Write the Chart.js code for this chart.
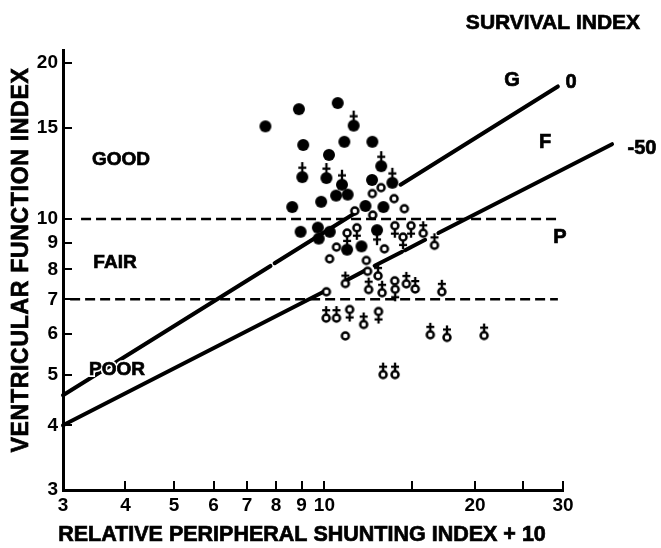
<!DOCTYPE html>
<html>
<head>
<meta charset="utf-8">
<script src="https://cdn.jsdelivr.net/npm/chart.js@4.4.1/dist/chart.umd.min.js"></script>
<style>
  html, body { margin: 0; padding: 0; background: #fff; }
</style>
</head>
<body>
<canvas id="chart" width="661" height="548"></canvas>
<script>
// axis ticks
const xTicks = [3, 4, 5, 6, 7, 8, 9, 10, 15, 20, 25, 30];
const xLabels = ["3", "4", "5", "6", "7", "8", "9", "10", "", "20", "", "30"];
const yTicks = [3, 4, 5, 6, 7, 8, 9, 10, 15, 20];

// survival index lines (gaps marked with null)
const line0 = [[3, 4.57], [7.8, 8.12], [7.87, null], [7.95, 8.22], [11.5, 10.26], [12.8, null], [14.2, 11.65], [29.3, 18.03]];
const line50 = [[3, 4.0], [10.1, 7.29], [10.6, null], [11.1, 7.63], [12.1, 7.97], [12.3, null], [12.6, 8.13], [14.3, 8.65], [14.4, null], [14.5, 8.71], [15.9, 9.12], [16.4, null], [16.9, 9.4], [37.6, 13.95]];

// good / fair / poor cut-offs
const cutGood = [[3.26, 10], [29.3, 10]];
const cutFair = [[3.1, 7], [29.3, 7]];

// patients
const filledPlain = [[7.62, 15.1], [8.89, 16.3], [10.63, 16.75], [9.07, 13.9], [10.96, 14.1], [12.47, 14.1], [10.21, 13.3],
  [12.45, 11.9], [10.55, 11.1], [11.13, 11.15], [9.85, 10.8], [8.62, 10.55], [12.08, 10.6], [13.12, 10.55],
  [8.96, 9.45], [9.70, 9.63], [9.74, 9.17], [10.25, 9.45], [11.10, 8.73], [11.86, 8.86]];
const filledCrossUp = [[11.44, 15.15], [9.03, 12.05], [10.09, 12.0], [10.84, 11.65], [12.99, 12.65], [13.67, 11.75]];
const filledCrossDown = [[12.74, 9.52]];
const openPlain = [[12.98, 11.5], [12.47, 11.2], [13.78, 10.95], [14.45, 10.47], [11.5, 10.37], [12.49, 10.18],
  [10.57, 8.83], [13.18, 8.76], [10.24, 8.38], [12.13, 8.32], [12.2, 7.93], [13.82, 7.6], [10.09, 7.24], [11.01, 5.95]];
const openCrossUp = [[16.6, 8.9], [11.01, 7.51], [12.26, 7.31], [12.8, 7.77], [13.04, 7.21], [14.58, 7.5], [15.19, 7.33],
  [17.17, 7.24], [10.08, 6.44], [10.57, 6.44], [11.98, 6.26], [16.28, 5.98], [17.58, 5.91], [20.86, 5.96],
  [13.1, 5.01], [13.84, 5.01], [15.76, 9.39]];
const openCrossDown = [[11.1, 9.4], [11.61, 9.62], [13.83, 9.71], [14.9, 9.71], [14.36, 9.23], [13.85, 7.32], [11.23, 6.69], [12.83, 6.63]];

const FONT = "'Liberation Sans', Arial, sans-serif";

function pts(arr) {
  return arr.map(p => ({ x: p[0], y: p[1] }));
}

// marker glyphs: circle (filled or open) with optional cross above/below
function makeSymbol(filled, cross) {
  const c = document.createElement('canvas');
  c.width = 18; c.height = 38;
  const g = c.getContext('2d');
  const cx = 9, cy = 19;
  const r = filled ? 6 : 3.5;
  const reach = filled ? 6 : 4.6;
  const len = filled ? 9 : 7.5;
  g.strokeStyle = '#000';
  g.fillStyle = '#000';
  g.lineWidth = 2.3;
  if (cross) {
    const s = cross === 'above' ? -1 : 1;
    g.beginPath();
    g.moveTo(cx, cy + s * (reach - 1));
    g.lineTo(cx, cy + s * (reach + len));
    g.moveTo(cx - 4, cy + s * (reach + 3.3));
    g.lineTo(cx + 4, cy + s * (reach + 3.3));
    g.stroke();
  }
  g.beginPath();
  g.arc(cx, cy, r, 0, Math.PI * 2);
  if (filled) {
    g.fill();
  } else {
    g.lineWidth = 2.5;
    g.fillStyle = '#fff';
    g.fill();
    g.stroke();
  }
  return c;
}

function markerSet(arr, filled, cross) {
  return {
    data: pts(arr),
    pointStyle: makeSymbol(filled, cross),
    pointRadius: 5,
    showLine: false,
    order: 0
  };
}

function lineSet(arr, opts) {
  return Object.assign({
    data: pts(arr),
    showLine: true,
    spanGaps: false,
    pointRadius: 0,
    borderColor: '#000',
    borderWidth: 4,
    borderCapStyle: 'round',
    fill: false,
    clip: false,
    order: 10
  }, opts || {});
}

// inward tick marks on both axes
const tickMarks = {
  id: 'tickMarks',
  beforeDatasetsDraw(chart) {
    const { ctx, chartArea, scales } = chart;
    ctx.save();
    ctx.strokeStyle = '#000';
    ctx.lineWidth = 2;
    xTicks.forEach(v => {
      const px = Math.round(scales.x.getPixelForValue(v));
      ctx.beginPath();
      ctx.moveTo(px, chartArea.bottom);
      ctx.lineTo(px, chartArea.bottom - 9);
      ctx.stroke();
    });
    yTicks.forEach(v => {
      const py = Math.round(scales.y.getPixelForValue(v));
      ctx.beginPath();
      ctx.moveTo(chartArea.left, py);
      ctx.lineTo(chartArea.left + 9, py);
      ctx.stroke();
    });
    ctx.restore();
  }
};

// titles and zone labels
const texts = {
  id: 'texts',
  afterDraw(chart) {
    const ctx = chart.ctx;
    function put(str, x, y, size, spacing) {
      ctx.font = 'bold ' + size + 'px ' + FONT;
      ctx.letterSpacing = (spacing || 0) + 'px';
      ctx.textAlign = 'center';
      ctx.textBaseline = 'middle';
      ctx.lineWidth = 4;
      ctx.strokeStyle = '#fff';
      ctx.strokeText(str, x, y);
      ctx.fillStyle = '#000';
      ctx.fillText(str, x, y);
      ctx.lineWidth = 0.7;
      ctx.strokeStyle = '#000';
      ctx.strokeText(str, x, y);
    }
    ctx.save();
    put('SURVIVAL INDEX', 553, 23, 21);
    put('G', 512, 80, 20);
    put('0', 571, 82, 20);
    put('F', 545, 142, 20);
    put('-50', 642, 148, 20);
    put('P', 560, 237, 20);
    put('GOOD', 121, 160, 19);
    put('FAIR', 115, 263, 19);
    put('POOR', 117, 370, 19);
    put('RELATIVE PERIPHERAL SHUNTING INDEX + 10', 302, 535, 21.5);
    ctx.translate(22, 260);
    ctx.rotate(-Math.PI / 2);
    put('VENTRICULAR FUNCTION INDEX', 0, 0, 23, 0.7);
    ctx.restore();
  }
};

new Chart(document.getElementById('chart'), {
  type: 'scatter',
  data: {
    datasets: [
      lineSet(line0),
      lineSet(line50),
      lineSet(cutGood, { borderWidth: 2.5, borderDash: [10, 5], borderCapStyle: 'butt' }),
      lineSet(cutFair, { borderWidth: 2.5, borderDash: [10, 5], borderCapStyle: 'butt' }),
      markerSet(openPlain, false, null),
      markerSet(openCrossUp, false, 'above'),
      markerSet(openCrossDown, false, 'below'),
      markerSet(filledPlain, true, null),
      markerSet(filledCrossUp, true, 'above'),
      markerSet(filledCrossDown, true, 'below')
    ]
  },
  options: {
    responsive: false,
    animation: false,
    events: [],
    devicePixelRatio: 1,
    layout: { padding: { left: 0, top: 50, right: 98, bottom: 0 } },
    plugins: { legend: { display: false }, tooltip: { enabled: false } },
    scales: {
      x: {
        type: 'logarithmic',
        position: 'bottom',
        min: 3,
        max: 30,
        afterFit: s => { s.height = 58; },
        afterBuildTicks: s => { s.ticks = xTicks.map(v => ({ value: v })); },
        grid: { display: false, drawTicks: false },
        border: { display: true, color: '#000', width: 3 },
        ticks: {
          autoSkip: false,
          maxRotation: 0,
          padding: 4,
          color: '#000',
          font: { family: FONT, size: 19, weight: 'bold' },
          callback: v => {
            const i = xTicks.indexOf(v);
            return i >= 0 ? xLabels[i] : '';
          }
        }
      },
      y: {
        type: 'logarithmic',
        position: 'left',
        min: 3,
        max: 21.2,
        afterFit: s => { s.width = 63; },
        afterBuildTicks: s => { s.ticks = yTicks.map(v => ({ value: v })); },
        grid: { display: false, drawTicks: false },
        border: { display: true, color: '#000', width: 3 },
        ticks: {
          autoSkip: false,
          padding: 5,
          color: '#000',
          font: { family: FONT, size: 19, weight: 'bold' },
          callback: v => (yTicks.includes(v) ? String(v) : '')
        }
      }
    }
  },
  plugins: [tickMarks, texts]
});
</script>
</body>
</html>
